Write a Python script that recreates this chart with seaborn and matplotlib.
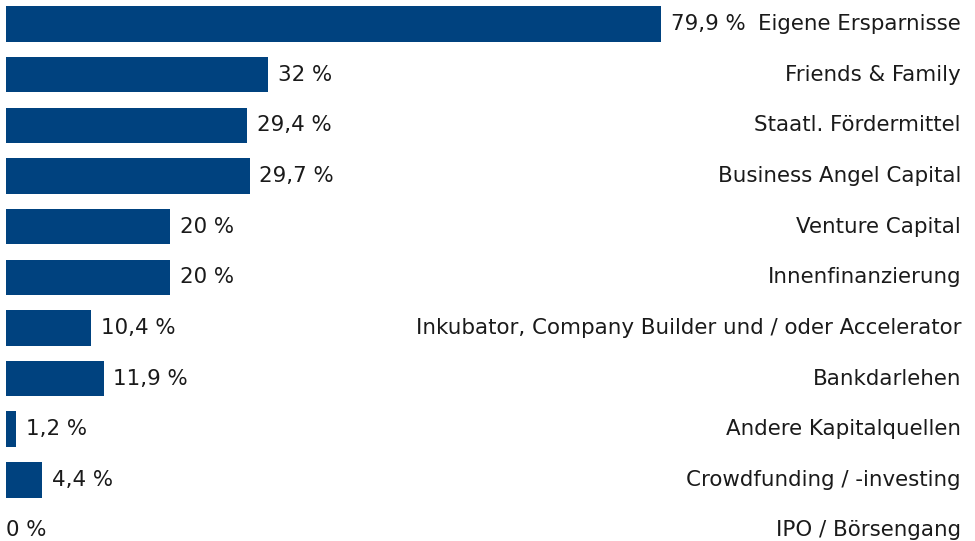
import matplotlib
matplotlib.use("Agg")
import matplotlib.pyplot as plt
import seaborn as sns
import pandas as pd

categories = [
    "Eigene Ersparnisse",
    "Friends & Family",
    "Staatl. Fördermittel",
    "Business Angel Capital",
    "Venture Capital",
    "Innenfinanzierung",
    "Inkubator, Company Builder und / oder Accelerator",
    "Bankdarlehen",
    "Andere Kapitalquellen",
    "Crowdfunding / -investing",
    "IPO / Börsengang",
]
values = [79.9, 32, 29.4, 29.7, 20, 20, 10.4, 11.9, 1.2, 4.4, 0]

BAR_COLOR = "#00427f"
TEXT_COLOR = "#1a1a1a"
FONT_SIZE = 15.4

sns.set_theme(style="white")
plt.rcParams["font.family"] = ["DejaVu Sans"]

df = pd.DataFrame({"Quelle": categories, "Anteil": values})

fig = plt.figure(figsize=(9.75, 5.41), dpi=100)
ax = fig.add_axes([0, 0, 1, 1])

sns.barplot(data=df, x="Anteil", y="Quelle", orient="h", color=BAR_COLOR,
            saturation=1, width=0.7, linewidth=0, edgecolor="none", ax=ax)

# horizontal scale: 8.2 px per percent, bars start 6 px from the left edge
px_per_unit = 8.2
ax.set_xlim(-6 / px_per_unit, (975 - 6) / px_per_unit)
row_px = 50.65
ax.set_ylim((541 - 24) / row_px, -24 / row_px)

ax.set_axis_off()


def fmt(v):
    s = f"{v:g}".replace(".", ",")
    return f"{s} %"


for i, (cat, v) in enumerate(zip(categories, values)):
    ax.annotate(fmt(v), xy=(v, i), xytext=(7 if v > 0 else 0, 0),
                textcoords="offset points", ha="left", va="center",
                fontsize=FONT_SIZE, color=TEXT_COLOR)
    ax.text(961 / 975, i, cat, transform=ax.get_yaxis_transform(),
            ha="right", va="center", fontsize=FONT_SIZE, color=TEXT_COLOR)

fig.savefig("out.png", dpi=100)
